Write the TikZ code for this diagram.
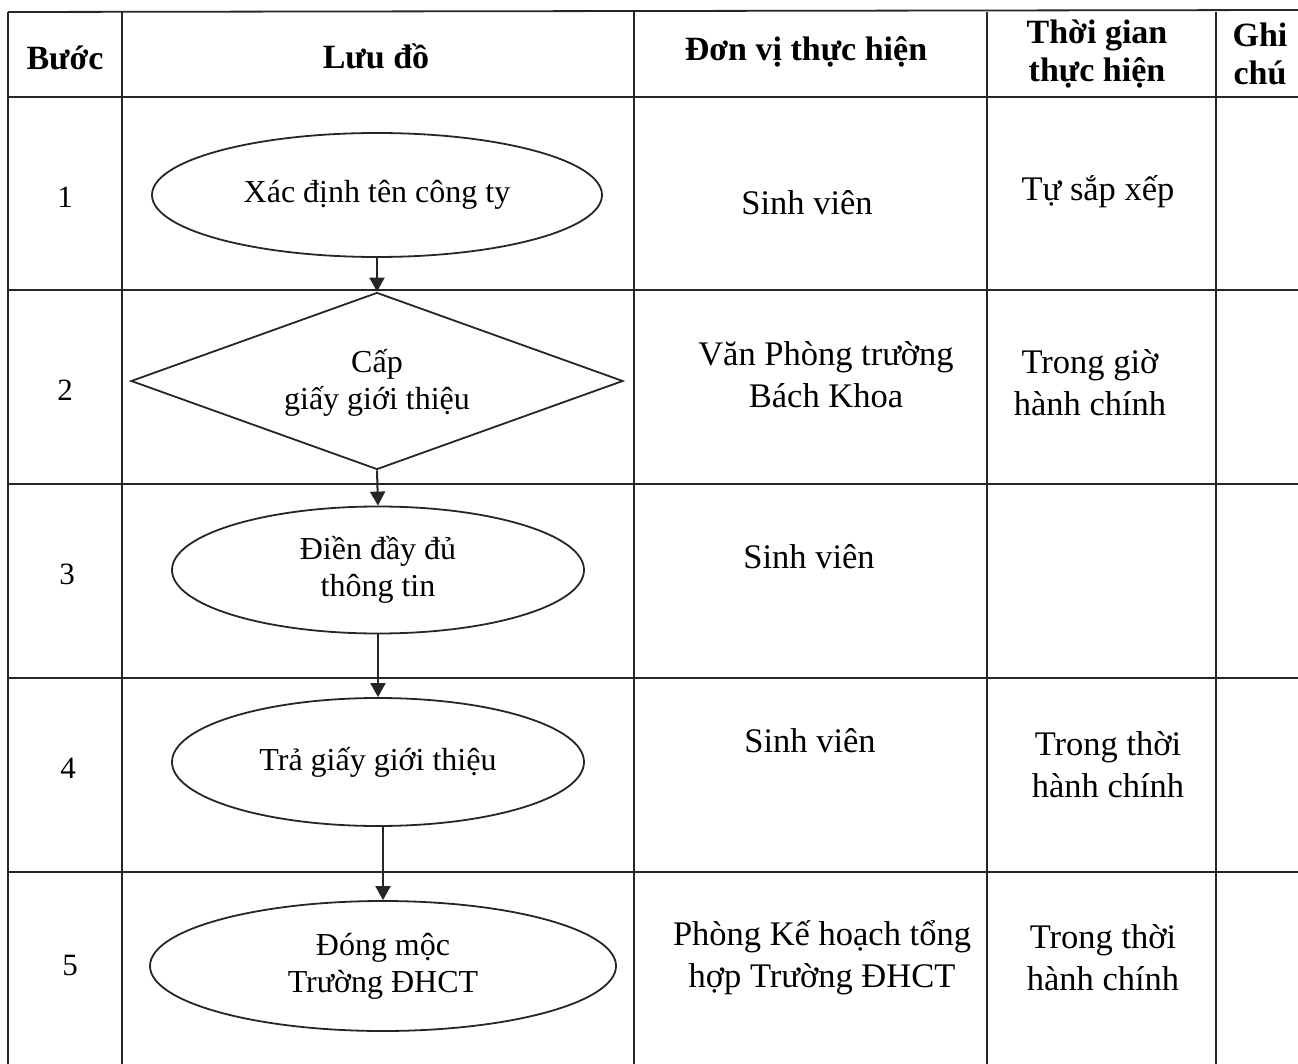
\documentclass[tikz,border=0pt]{standalone}
\usepackage{fontspec}
\setmainfont{Liberation Serif}
\usetikzlibrary{shapes.geometric,arrows.meta}
\tikzset{
  x=1pt,y=-1pt,
  grid/.style={line width=1.8pt,draw=black!85},
  hdr/.style={font=\fontsize{34}{38}\selectfont\bfseries,align=center,inner sep=0},
  num/.style={font=\fontsize{31}{36}\selectfont,inner sep=0},
  cell/.style={font=\fontsize{34.5}{42}\selectfont,align=center,inner sep=0},
  oval/.style={ellipse,draw=black!85,line width=1.8pt,inner sep=0,align=center,
    font=\fontsize{32}{37}\selectfont},
  dmd/.style={diamond,draw=black!85,line width=1.8pt,inner sep=0},
  flow/.style={line width=2pt,draw=black!85,-{Triangle[width=15pt,length=14pt]}}
}
\begin{document}
\begin{tikzpicture}
\useasboundingbox (0,0) rectangle (1298,1064);
% table grid
\draw[grid] (8,12) -- (1298,10);
\foreach \yy in {97,290,484,678,872} \draw[grid] (8,\yy) -- (1298,\yy);
\foreach \xx in {8,122,634,987,1216} \draw[grid] (\xx,12) -- (\xx,1064);
% header
\node[hdr] (hStep) at (65,58) {Bước};
\node[hdr] (hFlow) at (376,56) {Lưu đồ};
\node[hdr] (hUnit) at (806,52) {Đơn vị thực hiện};
\node[hdr] (hTime) at (1097,54) {Thời gian\\thực hiện};
\node[hdr] (hNote) at (1260,54) {Ghi\\chú};
% step numbers
\node[num] (n1) at (65,197) {1};
\node[num] (n2) at (65,390) {2};
\node[num] (n3) at (67,574) {3};
\node[num] (n4) at (68,768) {4};
\node[num] (n5) at (70,965) {5};
% flowchart
\node[oval,minimum width=450pt,minimum height=124pt] (e1) at (377,195) {Xác định tên công ty};
\node[dmd,minimum width=492pt,minimum height=177pt,shape aspect=2.78] (d2) at (377,381) {};
\node[font=\fontsize{32}{37}\selectfont,align=center,inner sep=0] (d2t) at (377,383) {Cấp\\giấy giới thiệu};
\node[oval,minimum width=412pt,minimum height=127pt] (e3) at (378,570) {Điền đầy đủ\\thông tin};
\node[oval,minimum width=412pt,minimum height=128pt] (e4) at (378,762) {Trả giấy giới thiệu};
\node[oval,minimum width=466pt,minimum height=130pt] (e5) at (383,966) {Đóng mộc\\Trường ĐHCT};
\draw[flow] (e1.south) -- (d2.north);
\draw[flow] (d2.south) -- (e3.north);
\draw[flow] (e3.south) -- (e4.north);
\draw[flow] (e4.south -| e5.north) -- (e5.north);
% unit column
\node[cell] (u1) at (807,203) {Sinh viên};
\node[cell] (u2) at (826,375) {Văn Phòng trường\\Bách Khoa};
\node[cell] (u3) at (809,557) {Sinh viên};
\node[cell] (u4) at (810,741) {Sinh viên};
\node[cell] (u5) at (822,958) {Phòng Kế hoạch tổng\\hợp Trường ĐHCT};
% time column
\node[cell] (t1) at (1098,192) {Tự sắp xếp};
\node[cell] (t2) at (1090,383) {Trong giờ\\hành chính};
\node[cell] (t4) at (1108,765) {Trong thời\\hành chính};
\node[cell] (t5) at (1103,958) {Trong thời\\hành chính};
\end{tikzpicture}
\end{document}
